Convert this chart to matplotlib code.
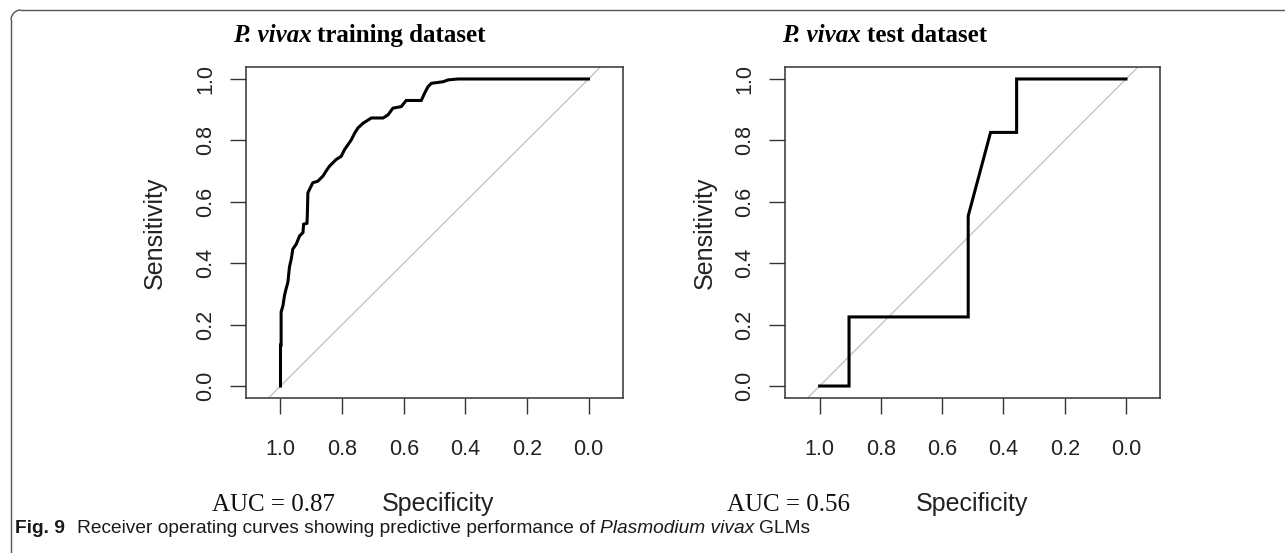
import matplotlib
matplotlib.use("Agg")
import matplotlib.pyplot as plt
from matplotlib.patches import Arc
from matplotlib.lines import Line2D

W, H = 1285, 553

# ROC curve of the training set (specificity, sensitivity)
train_spec = [1.000, 1.000, 0.998, 0.998, 0.992, 0.987, 0.982, 0.976, 0.971, 0.965,
              0.960, 0.949, 0.938, 0.927, 0.925, 0.914, 0.913, 0.911, 0.906, 0.895,
              0.879, 0.862, 0.852, 0.841, 0.819, 0.803, 0.792, 0.781, 0.770, 0.759,
              0.749, 0.732, 0.705, 0.667, 0.651, 0.635, 0.608, 0.592, 0.543, 0.532,
              0.521, 0.510, 0.472, 0.456, 0.424, 0.000]
train_sens = [0.000, 0.133, 0.133, 0.241, 0.262, 0.295, 0.316, 0.338, 0.387, 0.414,
              0.446, 0.462, 0.489, 0.500, 0.527, 0.530, 0.554, 0.630, 0.640, 0.662,
              0.667, 0.684, 0.700, 0.716, 0.738, 0.748, 0.770, 0.786, 0.802, 0.824,
              0.840, 0.856, 0.873, 0.873, 0.883, 0.905, 0.910, 0.930, 0.930, 0.954,
              0.975, 0.986, 0.991, 0.997, 1.000, 1.000]

# ROC curve of the test set
test_spec = [1.000, 0.904, 0.904, 0.515, 0.515, 0.442, 0.357, 0.357, 0.000]
test_sens = [0.000, 0.000, 0.225, 0.225, 0.554, 0.826, 0.826, 1.000, 1.000]

auc_values = [0.87, 0.56]
panel_names = ["training dataset", "test dataset"]
tick_values = [1.0, 0.8, 0.6, 0.4, 0.2, 0.0]
tick_labels = ["1.0", "0.8", "0.6", "0.4", "0.2", "0.0"]

fig = plt.figure(figsize=(W / 100, H / 100), dpi=100)
renderer = fig.canvas.get_renderer()


def fx(x):
    return x / W


def fy(y):
    return 1 - y / H


def text_run(x, y, parts, gaps):
    # draw pieces of text side by side on one baseline, x/y in pixels from top-left
    cur = x
    for (s, kw), gap in zip(parts, gaps):
        t = fig.text(fx(cur), fy(y), s, ha="left", va="baseline", **kw)
        bb = t.get_window_extent(renderer)
        cur = bb.x1 + gap


# outer frame: top and left edge with a rounded corner
r = 10
frame_col = "#555555"
fig.add_artist(Line2D([fx(11 + r), 1], [fy(10), fy(10)], transform=fig.transFigure,
                      color=frame_col, lw=1.0))
fig.add_artist(Line2D([fx(11), fx(11)], [fy(10 + r), 0], transform=fig.transFigure,
                      color=frame_col, lw=1.0))
fig.add_artist(Arc((fx(11 + r), fy(10 + r)), 2 * r / W, 2 * r / H, theta1=90, theta2=180,
                   transform=fig.transFigure, color=frame_col, lw=1.0))

boxes = [(246, 66.7, 622.7, 398.3), (785.3, 66.7, 1160, 398.3)]
curves = [(train_spec, train_sens), (test_spec, test_sens)]
title_x = [232.7, 782]
spec_x = [438, 972]
auc_x = [211.7, 726.7]
sens_x = [155, 705]

for i, (l, t, rr, b) in enumerate(boxes):
    ax = fig.add_axes([fx(l), fy(b), fx(rr - l), (b - t) / H])
    ax.axline((1, 0), (0, 1), color="#c0c0c0", lw=0.9, zorder=1)
    spec, sens = curves[i]
    ax.plot(spec, sens, color="black", lw=2.2, zorder=2, solid_joinstyle="miter")
    ax.set_xlim(1.112, -0.111)
    ax.set_ylim(-0.04, 1.04)
    for sp in ax.spines.values():
        sp.set_color("#333333")
        sp.set_linewidth(1.1)
    ax.set_xticks(tick_values)
    ax.set_xticklabels(tick_labels)
    ax.set_yticks(tick_values)
    ax.set_yticklabels(tick_labels, rotation=90, va="center")
    ax.tick_params(axis="both", direction="out", length=11.5, width=1.0, color="#333333",
                   labelsize=15.5, labelcolor="#222222")
    ax.tick_params(axis="x", pad=18)
    ax.tick_params(axis="y", pad=10)
    for lab in ax.get_xticklabels() + ax.get_yticklabels():
        lab.set_family("Liberation Sans")

    fig.text(fx(sens_x[i]), fy((t + b) / 2), "Sensitivity", rotation=90, ha="center",
             va="center", fontsize=18, family="Liberation Sans", color="#222222")
    fig.text(fx(spec_x[i]), fy(511), "Specificity", ha="center", va="baseline",
             fontsize=18, family="Liberation Sans", color="#222222")
    fig.text(fx(auc_x[i]), fy(511), f"AUC = {auc_values[i]:.2f}", ha="left", va="baseline",
             fontsize=18, family="Liberation Serif", color="#111111")
    text_run(title_x[i], 42,
             [("P. vivax", dict(fontsize=18, family="Liberation Serif", weight="bold",
                                style="italic")),
              (panel_names[i], dict(fontsize=18, family="Liberation Serif", weight="bold"))],
             gaps=[6, 0])

# figure caption
cap = dict(fontsize=13.8, family="Liberation Sans", color="#1a1a1a")
text_run(15, 533,
         [("Fig. 9", dict(cap, weight="bold")),
          ("Receiver operating curves showing predictive performance of", cap),
          ("Plasmodium vivax", dict(cap, style="italic")),
          ("GLMs", cap)],
         gaps=[12, 5, 5, 0])

fig.savefig("out.png", dpi=100)
